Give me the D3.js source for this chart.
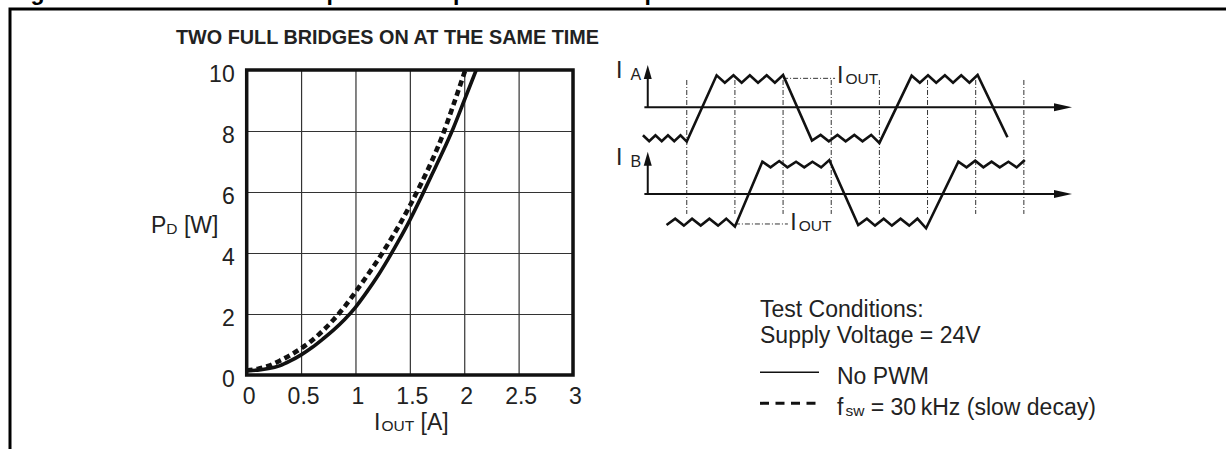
<!DOCTYPE html>
<html><head><meta charset="utf-8">
<script src="https://cdn.jsdelivr.net/npm/d3@7"></script>
<style>
html,body{margin:0;padding:0;background:#fff;}
svg{display:block;font-family:"Liberation Sans",Arial,Helvetica,sans-serif;}
</style></head><body>
<svg id="c" width="1226" height="449"></svg>
<script>
// ---- chart data ----
const currentNoPWM = [0, 0.1, 0.2, 0.3, 0.4, 0.5, 0.6, 0.7, 0.8, 0.9, 1.0, 1.1, 1.2, 1.3, 1.4, 1.5, 1.6, 1.7, 1.8, 1.9, 2.0, 2.11];
const powerNoPWM   = [0.15, 0.16, 0.21, 0.3, 0.46, 0.66, 0.9, 1.18, 1.48, 1.82, 2.22, 2.7, 3.22, 3.8, 4.42, 5.08, 5.8, 6.55, 7.3, 8.1, 9.0, 10.0];
const currentPWM   = [0, 0.1, 0.2, 0.3, 0.4, 0.5, 0.6, 0.7, 0.8, 0.9, 1.0, 1.1, 1.2, 1.3, 1.4, 1.5, 1.6, 1.7, 1.8, 1.9, 2.01];
const powerPWM     = [0.15, 0.2, 0.3, 0.46, 0.65, 0.87, 1.13, 1.45, 1.82, 2.24, 2.72, 3.22, 3.74, 4.3, 4.9, 5.55, 6.25, 7.0, 7.85, 8.85, 10.0];
const xTicks = [0, 0.5, 1, 1.5, 2, 2.5, 3];
const xTickLabels = ["0", "0.5", "1", "1.5", "2", "2.5", "3"];
const yTicks = [0, 2, 4, 6, 8, 10];
const yTickLabels = ["0", "2", "4", "6", "8", "10"];
const chartTitle = "TWO FULL BRIDGES ON AT THE SAME TIME";
const captionNumber = "Figure 34.";
const captionText = "IC power dissipation versus output current";

// ---- waveform diagram data (schematic time units / current units) ----
const waveTimeA = [0.09,0.22,0.35,0.48,0.61,0.74,0.87,1.0, 1.62,1.79,1.97,2.14,2.31,2.48,2.66,2.83,3.0, 3.6,3.78,3.95,4.13,4.3,4.48,4.65,4.83,5.0, 5.67,5.84,6.01,6.18,6.36,6.53,6.7,6.87,7.04, 7.66];
const waveCurA  = [-0.84,-1.02,-0.84,-1.02,-0.84,-1.02,-0.84,-1.03, 0.96,0.74,0.96,0.74,0.96,0.74,0.96,0.74,0.97, -1.0,-0.83,-1.02,-0.83,-1.02,-0.83,-1.02,-0.83,-1.07, 0.95,0.74,0.96,0.74,0.96,0.74,0.96,0.74,0.97, -0.9];
const waveTimeB = [0.58,0.76,0.94,1.11,1.29,1.47,1.65,1.82,2.0, 2.57,2.74,2.92,3.09,3.27,3.44,3.61,3.79,3.96, 4.56,4.74,4.91,5.09,5.26,5.44,5.62,5.79,5.97, 6.64,6.81,6.99,7.16,7.33,7.5,7.68,7.85,8.02];
const waveCurB  = [-0.93,-0.74,-0.95,-0.74,-0.95,-0.74,-0.95,-0.74,-0.98, 0.97,0.8,0.99,0.8,0.97,0.8,0.97,0.8,1.02, -0.93,-0.74,-0.95,-0.74,-0.95,-0.74,-0.95,-0.74,-1.03, 0.97,0.8,1.0,0.8,0.97,0.8,0.97,0.8,1.02];
const markerTimes = [1, 2, 3, 4, 5, 6, 7, 8];
const refA = {t0: 3.0, t1: 4.08, i: 0.87};
const refB = {t0: 2.0, t1: 3.1, i: -0.9};

const legendItems = [
  {main: "No PWM", dash: null},
  {main: "f", sub: "sw", rest: " = 30\u2009kHz (slow decay)", dash: "9,6.5"}
];

const svg = d3.select("#c");
const F = 23, FS = 15.5;

// outer frame + clipped caption (cut off at top like the reference)
svg.append("text").attr("x", 10).attr("y", 0).attr("font-weight", "bold").attr("font-size", F).text(captionNumber);
svg.append("text").attr("x", 297).attr("y", 0).attr("font-weight", "bold").attr("font-size", F).text(captionText);
svg.append("path").attr("d", "M10,449V9H1226").attr("fill", "none").attr("stroke", "#000").attr("stroke-width", 3);

// ---- plot ----
const x = d3.scaleLinear().domain([0, 3]).range([246.7, 573]);
const y = d3.scaleLinear().domain([0, 10]).range([375, 70]);
const H = y(0) - y(10);

svg.append("text").attr("x", 176).attr("y", 44).attr("font-weight", "bold").attr("font-size", 20)
  .attr("textLength", 423).attr("lengthAdjust", "spacingAndGlyphs").attr("fill", "#222").text(chartTitle);

const gx = svg.append("g").attr("transform", `translate(0,${y(0)})`)
  .call(d3.axisBottom(x).tickValues(xTicks).tickSize(-H).tickFormat(""));
gx.select(".domain").remove();
gx.selectAll("line").attr("stroke", "#333").attr("stroke-width", 1.2);
const gy = svg.append("g").attr("transform", `translate(${x(0)},0)`)
  .call(d3.axisLeft(y).tickValues(yTicks).tickSize(-(x(3) - x(0))).tickFormat(""));
gy.select(".domain").remove();
gy.selectAll("line").attr("stroke", "#333").attr("stroke-width", 1.2);

// tick labels
const lx = svg.append("g").attr("transform", `translate(0,${y(0)})`)
  .call(d3.axisBottom(x).tickValues(xTicks).tickSize(0).tickPadding(13).tickFormat((d, i) => xTickLabels[i]));
lx.select(".domain").remove();
lx.selectAll("text").attr("font-size", F).attr("font-family", "Liberation Sans, Arial, sans-serif").attr("fill", "#222").attr("dx", 2);
const ly = svg.append("g").attr("transform", `translate(${x(0)},0)`)
  .call(d3.axisLeft(y).tickValues(yTicks).tickSize(0).tickPadding(12).tickFormat((d, i) => yTickLabels[i]));
ly.select(".domain").remove();
ly.selectAll("text").attr("font-size", F).attr("font-family", "Liberation Sans, Arial, sans-serif").attr("fill", "#222").attr("dy", "0.5em");

// clip
svg.append("clipPath").attr("id", "pc").append("rect")
  .attr("x", x(0)).attr("y", y(10)).attr("width", x(3) - x(0)).attr("height", H);

const line = d3.line().x(d => x(d[0])).y(d => y(d[1])).curve(d3.curveMonotoneX);
svg.append("path").attr("clip-path", "url(#pc)")
  .attr("d", line(currentNoPWM.map((c, i) => [c, powerNoPWM[i]])))
  .attr("fill", "none").attr("stroke", "#111").attr("stroke-width", 3.6);
svg.append("path").attr("clip-path", "url(#pc)")
  .attr("d", line(currentPWM.map((c, i) => [c, powerPWM[i]])))
  .attr("fill", "none").attr("stroke", "#111").attr("stroke-width", 4.6).attr("stroke-dasharray", "6,4");

// plot frame
svg.append("rect").attr("x", x(0)).attr("y", y(10)).attr("width", x(3) - x(0)).attr("height", H)
  .attr("fill", "none").attr("stroke", "#111").attr("stroke-width", 3.5);

// axis titles
const yt = svg.append("text").attr("x", 151).attr("y", 233).attr("font-size", F).attr("fill", "#222");
yt.append("tspan").text("P");
yt.append("tspan").attr("font-size", FS).attr("dy", 1).text("D");
yt.append("tspan").attr("dy", -1).text(" [W]");
const xt = svg.append("text").attr("x", 374).attr("y", 430).attr("font-size", F).attr("fill", "#222");
xt.append("tspan").text("I");
xt.append("tspan").attr("font-size", FS).attr("dx", 1).attr("dy", 1).text("OUT");
xt.append("tspan").attr("dy", -1).text(" [A]");

// ---- waveform diagram ----
const t = d3.scaleLinear().domain([0, 9]).range([638.6, 1072]);
const iA = d3.scaleLinear().domain([0, 1]).range([107.3, 74]);
const iB = d3.scaleLinear().domain([0, 1]).range([194, 160.7]);

const wd = svg.append("g");
// vertical dash-dot markers
wd.selectAll("line.mk").data(markerTimes).enter().append("line")
  .attr("x1", d => t(d)).attr("x2", d => t(d))
  .attr("y1", iA(0.82)).attr("y2", iB(-0.6))
  .attr("stroke", "#333").attr("stroke-width", 1).attr("stroke-dasharray", "5,2,1,2");

// reference I_OUT lines
[[refA, iA], [refB, iB]].forEach(([r, s]) => {
  wd.append("line").attr("x1", t(r.t0)).attr("x2", t(r.t1)).attr("y1", s(r.i)).attr("y2", s(r.i))
    .attr("stroke", "#333").attr("stroke-width", 1).attr("stroke-dasharray", "5,2,1,2");
});

// axes with arrows
function axisPair(s, label) {
  const x0 = t(0.19);
  wd.append("line").attr("x1", t(0.12)).attr("x2", t(9) - 14).attr("y1", s(0)).attr("y2", s(0))
    .attr("stroke", "#111").attr("stroke-width", 2);
  wd.append("path").attr("d", `M${t(9)},${s(0)}L${t(9) - 18},${s(0) - 4}L${t(9) - 18},${s(0) + 4}Z`).attr("fill", "#111");
  wd.append("line").attr("x1", x0).attr("x2", x0).attr("y1", s(0)).attr("y2", s(1.27) + 12)
    .attr("stroke", "#111").attr("stroke-width", 2);
  wd.append("path").attr("d", `M${x0},${s(1.27)}L${x0 - 4},${s(1.27) + 14}L${x0 + 4},${s(1.27) + 14}Z`).attr("fill", "#111");
  const lt = wd.append("text").attr("x", 616).attr("y", s(1.0) + 4).attr("font-size", F).attr("fill", "#222");
  lt.append("tspan").text("I");
  lt.append("tspan").attr("font-size", 16).attr("dx", 8).attr("dy", 2).text(label);
}
axisPair(iA, "A");
axisPair(iB, "B");

const wl = d3.line().x(d => t(d[0])).y(d => d[1]);
wd.append("path").attr("d", wl(waveTimeA.map((v, i) => [v, iA(waveCurA[i])])))
  .attr("fill", "none").attr("stroke", "#111").attr("stroke-width", 2.6).attr("stroke-linejoin", "miter");
wd.append("path").attr("d", wl(waveTimeB.map((v, i) => [v, iB(waveCurB[i])])))
  .attr("fill", "none").attr("stroke", "#111").attr("stroke-width", 2.6).attr("stroke-linejoin", "miter");

// I_OUT labels
function ioutLabel(xp, yp) {
  const tx = wd.append("text").attr("x", xp).attr("y", yp).attr("font-size", F).attr("fill", "#222");
  tx.append("tspan").text("I");
  tx.append("tspan").attr("font-size", FS).attr("dx", 2).attr("dy", 1).text("OUT");
}
ioutLabel(t(4.12), iA(0.72));
ioutLabel(t(3.15), iB(-1.08));

// ---- legend / test conditions ----
svg.append("text").attr("x", 760).attr("y", 317).attr("font-size", F).attr("fill", "#222").text("Test Conditions:");
svg.append("text").attr("x", 760).attr("y", 343).attr("font-size", F).attr("fill", "#222").text("Supply Voltage = 24V");
const legY = [372.3, 403.3];
legendItems.forEach((it, k) => {
  svg.append("line").attr("x1", 760).attr("x2", 819).attr("y1", legY[k]).attr("y2", legY[k])
    .attr("stroke", "#111").attr("stroke-width", it.dash ? 3 : 1.5)
    .attr("stroke-dasharray", it.dash);
  const tx = svg.append("text").attr("x", 837).attr("y", legY[k] + 12).attr("font-size", F).attr("fill", "#222");
  tx.append("tspan").text(it.main);
  if (it.sub) {
    tx.append("tspan").attr("font-size", FS).attr("dx", 2).attr("dy", 1).text(it.sub);
    tx.append("tspan").attr("dy", -1).text(it.rest);
  }
});
</script>
</body></html>
